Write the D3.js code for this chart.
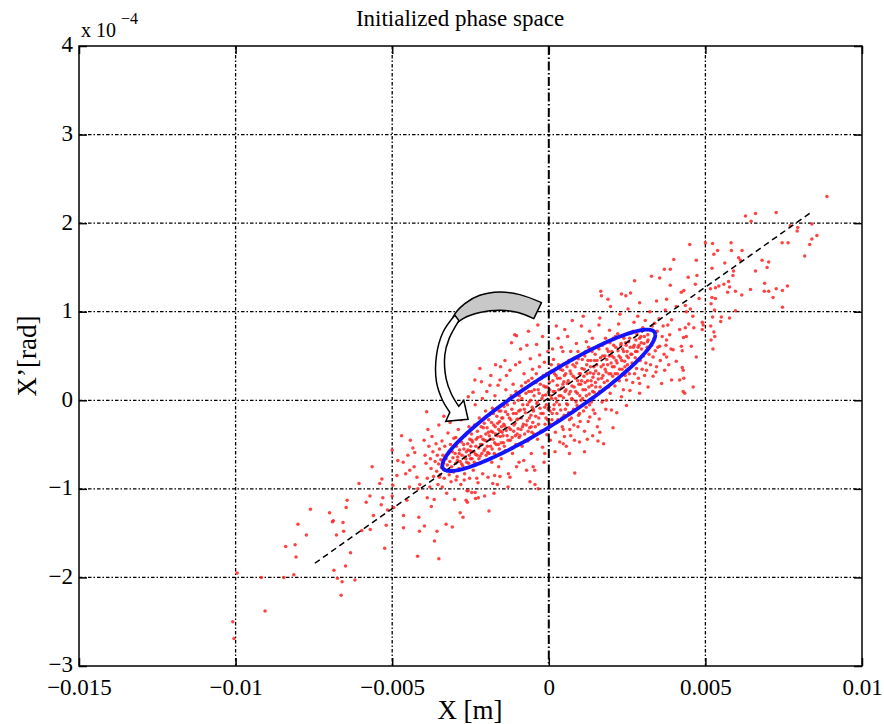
<!DOCTYPE html>
<html>
<head>
<meta charset="utf-8">
<script src="https://cdn.jsdelivr.net/npm/d3@7"></script>
<style>
  body { margin: 0; background: #fff; }
  text { font-family: "Liberation Serif", "Times New Roman", serif; }
</style>
</head>
<body>
<div id="chart"></div>
<script>
// particle positions: [x in mm, x' in 1e-4 rad]
const tailLow = [[-9.95,-1.95],[-10.09,-2.50],[-10.05,-2.69],[-9.06,-2.38],[-9.18,-2.00],[-8.46,-2.00],[-8.14,-1.97],[-8.40,-1.65],[-8.10,-1.63],[-8.07,-1.77],[-8.01,-1.40],[-7.74,-1.52],[-7.61,-1.23],[-7.00,-1.27],[-6.91,-1.37],[-6.88,-1.36],[-6.57,-1.38],[-6.55,-1.48],[-6.78,-1.52],[-6.47,-1.21],[-6.44,-1.13],[-6.06,-0.94],[-6.33,-1.72],[-6.49,-1.87],[-6.86,-1.92],[-6.75,-2.01],[-6.60,-2.05],[-6.63,-2.20],[-6.19,-2.03],[-5.97,-1.47],[-5.83,-1.15],[-5.71,-1.08],[-5.70,-1.46],[-5.64,-0.75],[-5.40,-0.94],[-5.33,-0.89],[-5.30,-1.10],[-5.35,-1.18],[-5.60,-1.30],[-5.24,-1.67],[-5.19,-1.41],[-5.00,-0.56],[-4.98,-0.96],[-5.00,-1.08],[-4.82,-0.68],[-4.95,-1.21],[-5.15,-1.24],[-4.64,-1.30],[-4.64,-1.44],[-4.53,-1.13],[-4.57,-0.83],[-4.42,-0.45],[-4.34,-0.54],[-4.21,-0.87],[-4.18,-1.00],[-4.15,-1.32],[-4.13,-1.48],[-4.19,-1.76],[-4.7,-0.40],[-4.5,-0.62],[-4.85,-0.85],[-4.3,-0.75],[-4.45,-0.98],[-4.28,-0.59],[-4.65,-0.70],[-4.44,-0.79],[-4.12,-0.95]];

const lowerTail2 = [[-3.97,-1.42],[-3.65,-1.59],[-3.57,-1.48],[-3.51,-1.79],[-3.28,-1.40],[-3.08,-1.43],[-2.83,-1.27],[-2.74,-1.32],[-1.91,-1.25],[-3.88,-1.10],[-3.49,-0.87],[-2.96,-0.90],[-2.64,-1.13],[-2.58,-1.02],[-2.35,-1.04],[-2.34,-1.11],[-2.05,-1.08],[-1.79,-0.94],[-1.73,-0.85]];

const midLow = [[-3.98,-0.45],[-3.95,-0.62],[-3.92,-0.71],[-3.88,-0.88],[-3.86,-0.33],[-3.83,-0.52],[-3.8,-0.98],[-3.78,-0.66],[-3.76,-0.77],[-3.73,-0.41],[-3.7,-0.58],[-3.68,-0.86],[-3.66,-1.12],[-3.63,-0.69],[-3.6,-0.49],[-3.58,-0.8],[-3.56,-0.62],[-3.54,-0.95],[-3.52,-0.72],[-3.51,-0.28],[-3.9,-0.13],[-3.75,-1.2],
[-3.49,-0.55],[-3.47,-0.84],[-3.45,-0.67],[-3.43,-0.76],[-3.41,-0.46],[-3.4,-0.98],[-3.38,-0.62],[-3.36,-0.71],[-3.34,-0.88],[-3.32,-0.52],[-3.3,-0.79],[-3.28,-0.66],[-3.26,-1.05],[-3.24,-0.73],[-3.22,-0.37],[-3.2,-0.6],[-3.18,-0.84],[-3.16,-0.69],[-3.14,-0.5],[-3.12,-0.92],[-3.1,-0.75],[-3.08,-0.58],[-3.06,-0.65],[-3.04,-0.81],[-3.03,-0.43],[-3.01,-1.12],[-3.35,-0.18],[-3.15,-0.25],
[-2.99,-0.6],[-2.97,-0.71],[-2.95,-0.52],[-2.93,-0.86],[-2.91,-0.64],[-2.89,-0.33],[-2.87,-0.77],[-2.85,-0.56],[-2.83,-0.69],[-2.81,-0.95],[-2.79,-0.47],[-2.77,-0.62],[-2.75,-0.74],[-2.73,-0.11],[-2.71,-0.55],[-2.69,-0.83],[-2.67,-0.4],[-2.65,-0.66],[-2.63,-0.58],[-2.61,-1.02],[-2.59,-0.49],[-2.57,0.04],[-2.56,-0.71],[-2.55,-0.3],[-2.54,-0.62],[-2.53,-0.88],[-2.52,-0.44],[-2.51,-0.57],[-2.8,-0.22],[-2.6,-1.15],
[-2.49,-0.52],[-2.47,-0.38],[-2.45,-0.66],[-2.43,-0.47],[-2.42,0.09],[-2.41,-0.79],[-2.39,-0.58],[-2.37,-0.28],[-2.36,0.23],[-2.34,-0.61],[-2.32,-0.44],[-2.3,-0.72],[-2.28,-0.35],[-2.26,-0.93],[-2.24,-0.54],[-2.22,-0.2],[-2.2,0.36],[-2.19,-0.63],[-2.17,-0.41],[-2.15,0.21],[-2.13,-0.5],[-2.11,-0.83],[-2.09,-0.31],[-2.07,-0.57],[-2.05,-0.45],[-2.03,-0.68],[-2.02,-0.12],[-2.01,-0.38],[-2.46,-1.04],[-2.25,-1.1],[-2.35,-0.05],[-2.12,0.02],
[-1.99,-0.46],[-1.97,-0.31],[-1.95,-0.59],[-1.94,-0.87],[-1.92,-0.22],[-1.9,-0.4],[-1.88,0.17],[-1.86,-0.52],[-1.84,-0.35],[-1.82,-0.7],[-1.8,-0.09],[-1.78,-0.44],[-1.76,-0.28],[-1.74,-0.6],[-1.72,0.05],[-1.7,-0.38],[-1.68,-0.5],[-1.66,-0.18],[-1.64,-0.95],[-1.62,0.17],[-1.6,-0.33],[-1.58,-0.55],[-1.57,-0.24],[-1.56,0.23],[-1.55,-0.41],[-1.54,0.38],[-1.53,-0.12],[-1.52,-0.66],[-1.51,-0.3],[-1.56,-0.86],[-1.85,0.28],[-1.7,0.4],[-1.98,0.1],[-1.75,-1.05],
[-1.49,-0.36],[-1.47,-0.2],[-1.45,-0.48],[-1.43,-0.07],[-1.41,-0.29],[-1.39,-0.57],[-1.37,0.12],[-1.35,0.28],[-1.33,-0.4],[-1.31,-0.16],[-1.29,-0.83],[-1.27,-0.31],[-1.25,0.02],[-1.24,-0.87],[-1.23,-0.45],[-1.21,-0.22],[-1.19,0.65],[-1.18,-0.1],[-1.16,-0.6],[-1.14,0.18],[-1.12,-0.35],[-1.1,-0.03],[-1.08,-0.26],[-1.06,0.4],[-1.05,-0.5],[-1.04,-0.15],[-1.03,-0.75],[-1.03,0.73],[-1.02,0.06],[-1.01,-0.38],[-1.09,0.74],[-1.24,0.34],[-1.4,0.45],[-1.3,-0.98],
[-0.99,-0.21],[-0.97,0.0],[-0.95,-0.42],[-0.93,0.43],[-0.91,-0.11],[-0.89,-0.33],[-0.87,0.16],[-0.85,-0.52],[-0.83,-0.05],[-0.81,-0.27],[-0.79,0.3],[-0.77,-0.38],[-0.75,-0.14],[-0.73,0.08],[-0.71,-0.79],[-0.69,-0.23],[-0.67,-0.46],[-0.65,0.22],[-0.63,-0.02],[-0.61,-0.31],[-0.59,0.47],[-0.57,-0.17],[-0.56,-0.6],[-0.55,0.1],[-0.54,-0.36],[-0.53,-0.08],[-0.52,0.35],[-0.51,-0.25],[-0.9,0.58],[-0.7,0.62],[-0.6,-0.92],[-0.8,-0.68],[-0.95,-0.7],[-0.65,0.78],
[-0.49,-0.12],[-0.47,0.05],[-0.45,-0.79],[-0.43,-0.3],[-0.41,0.2],[-0.39,0.63],[-0.38,-0.04],[-0.36,-0.44],[-0.34,0.12],[-0.32,-0.2],[-0.3,0.38],[-0.29,0.51],[-0.28,-0.09],[-0.26,-0.35],[-0.24,0.25],[-0.22,0.02],[-0.2,-0.53],[-0.18,-0.15],[-0.16,0.16],[-0.14,0.43],[-0.12,-0.27],[-0.1,0.06],[-0.08,-0.05],[-0.07,0.3],[-0.06,-0.39],[-0.05,0.15],[-0.04,-0.22],[-0.03,0.55],[-0.02,-0.1],[-0.01,0.09],[-0.35,0.85],[-0.2,0.72],[-0.15,-0.7],[-0.44,-0.95],[-0.34,-1.0],[-0.5,-0.75],[-0.13,-0.6]];

const midHigh = [[0.01,-0.08],[0.03,0.12],[0.05,-0.27],[0.07,0.33],[0.09,0.02],[0.11,-0.15],[0.13,0.22],[0.15,0.46],[0.17,-0.05],[0.19,0.1],[0.21,-0.36],[0.23,0.28],[0.24,0.84],[0.25,-0.02],[0.27,0.17],[0.29,-0.22],[0.31,0.4],[0.33,0.05],[0.35,-0.47],[0.36,0.25],[0.38,-0.11],[0.4,0.6],[0.41,0.14],[0.43,-0.3],[0.44,0.34],[0.46,-0.33],[0.46,-0.49],[0.47,0.03],[0.48,0.21],[0.49,-0.17],[0.12,0.58],[0.3,0.7],[0.2,-0.58],[0.05,-0.45],
[0.5,-0.41],[0.51,0.8],[0.52,0.1],[0.54,0.3],[0.56,-0.52],[0.57,-0.04],[0.59,0.19],[0.61,0.42],[0.63,-0.14],[0.65,0.07],[0.67,-0.33],[0.68,0.33],[0.7,0.55],[0.72,-0.2],[0.74,0.16],[0.76,0.01],[0.78,0.27],[0.8,-0.28],[0.82,-0.45],[0.83,-0.82],[0.84,0.38],[0.86,0.1],[0.88,0.64],[0.9,-0.06],[0.92,0.22],[0.94,0.47],[0.95,-0.17],[0.97,0.3],[0.98,-0.47],[0.99,0.05],[0.6,0.72],[0.75,0.9],[0.66,-0.6],[0.93,-0.3],
[1.0,-0.24],[1.02,0.18],[1.04,0.84],[1.06,0.36],[1.08,0.02],[1.1,0.95],[1.12,0.27],[1.14,-0.35],[1.15,0.5],[1.17,0.12],[1.19,-0.08],[1.21,0.4],[1.23,-0.44],[1.24,0.22],[1.26,-0.24],[1.27,0.6],[1.29,0.07],[1.31,-0.19],[1.32,0.31],[1.34,0.45],[1.36,-0.02],[1.37,0.17],[1.39,0.7],[1.41,0.26],[1.42,-0.11],[1.44,0.38],[1.45,0.09],[1.47,-0.15],[1.48,0.52],[1.49,0.2],[1.14,-0.58],[1.3,0.78],[1.4,-0.4],[1.2,0.66],
[1.5,0.33],[1.52,0.06],[1.54,0.45],[1.55,-0.3],[1.57,-0.46],[1.58,0.24],[1.6,0.58],[1.61,-0.21],[1.63,0.93],[1.63,-0.36],[1.64,0.15],[1.66,1.23],[1.67,0.38],[1.68,1.18],[1.7,-0.02],[1.72,0.5],[1.73,0.28],[1.75,-0.49],[1.76,0.12],[1.78,0.65],[1.8,0.35],[1.82,-0.1],[1.84,0.0],[1.85,0.46],[1.87,0.22],[1.89,1.14],[1.9,0.55],[1.92,0.3],[1.94,0.79],[1.96,0.08],[1.97,1.06],[1.99,0.42],
[2.0,-0.11],[2.02,0.5],[2.04,0.27],[2.05,-0.31],[2.07,0.62],[2.09,0.38],[2.11,0.16],[2.13,0.72],[2.15,0.45],[2.17,-0.14],[2.19,0.3],[2.21,0.56],[2.23,0.86],[2.25,0.22],[2.27,0.97],[2.29,0.48],[2.31,0.64],[2.32,1.2],[2.32,0.04],[2.34,0.35],[2.36,0.58],[2.38,0.12],[2.4,0.7],[2.42,0.44],[2.44,0.28],[2.46,1.18],[2.47,0.62],[2.48,-0.06],[2.48,0.23],[2.49,0.5],
[2.51,0.4],[2.53,1.03],[2.55,0.66],[2.57,0.3],[2.59,0.11],[2.61,1.21],[2.62,0.52],[2.64,0.76],[2.66,0.42],[2.68,0.2],[2.7,0.6],[2.72,0.88],[2.74,1.35],[2.74,0.3],[2.76,0.48],[2.78,0.68],[2.8,0.36],[2.82,0.55],[2.84,0.95],[2.86,0.25],[2.88,0.62],[2.9,1.1],[2.9,0.08],[2.9,0.19],[2.92,0.45],[2.94,0.72],[2.96,0.58],[2.98,0.35],
[3.0,0.82],[3.02,0.5],[3.04,0.64],[3.06,0.28],[3.08,0.9],[3.1,0.42],[3.12,0.34],[3.14,0.6],[3.16,0.74],[3.17,0.15],[3.17,0.68],[3.2,0.52],[3.23,1.0],[3.25,0.4],[3.28,0.62],[3.3,0.84],[3.33,0.27],[3.33,0.49],[3.36,0.7],[3.38,0.87],[3.4,0.56],[3.42,0.32],[3.44,1.12],[3.44,0.38],[3.46,0.78],[3.48,0.6],
[3.52,0.92],[3.54,0.61],[3.56,0.45],[3.6,0.19],[3.62,0.72],[3.65,0.84],[3.68,0.52],[3.7,0.34],[3.72,1.02],[3.74,0.62],[3.76,0.49],[3.76,0.68],[3.76,1.14],[3.8,0.85],[3.83,0.4],[3.86,0.74],[3.88,1.3],[3.9,0.58],[3.92,0.23],[3.92,0.91],[3.97,0.57],[3.99,1.59],
[3.69,1.48],[3.88,1.48],[3.28,1.40],[3.54,1.38]];

// extra particles in the crowded core around the ellipse
const coreExtra = [[-2.92,-0.68],[-2.86,-0.6],[-2.78,-0.72],[-2.72,-0.5],[-2.68,-0.64],[-2.62,-0.7],[-2.58,-0.56],[-2.5,-0.66],[-2.46,-0.45],[-2.44,-0.58],[-2.38,-0.7],[-2.33,-0.52],[-2.29,-0.62],[-2.27,-0.42],[-2.23,-0.66],[-2.18,-0.5],[-2.16,-0.3],[-2.14,-0.6],[-2.1,-0.44],[-2.06,-0.26],[-2.04,-0.55],[-2.0,-0.62],[-2.97,-0.42],[-2.7,-0.9],[-2.3,-0.88],
[-1.96,-0.52],[-1.93,-0.36],[-1.91,-0.6],[-1.87,-0.44],[-1.83,-0.25],[-1.81,-0.55],[-1.79,-0.36],[-1.77,-0.15],[-1.73,-0.48],[-1.71,-0.3],[-1.69,-0.62],[-1.65,-0.4],[-1.63,-0.26],[-1.61,-0.5],[-1.59,-0.12],[-1.55,-0.35],[-1.52,-0.48],[-1.5,-0.2],[-1.46,-0.4],[-1.44,-0.27],[-1.42,-0.52],[-1.38,-0.13],[-1.36,-0.34],[-1.32,-0.05],[-1.3,-0.45],[-1.26,-0.2],[-1.22,-0.33],[-1.2,0.05],[-1.17,-0.42],[-1.13,-0.15],[-1.11,-0.28],[-1.07,-0.4],[-1.05,0.1],[-1.02,-0.22],[-1.6,-0.75],
[-0.98,-0.32],[-0.96,-0.12],[-0.94,0.05],[-0.92,-0.4],[-0.88,-0.2],[-0.86,0.02],[-0.84,-0.3],[-0.82,0.12],[-0.78,-0.1],[-0.76,-0.46],[-0.74,0.2],[-0.72,-0.28],[-0.68,-0.05],[-0.66,-0.35],[-0.64,0.1],[-0.62,-0.2],[-0.58,0.0],[-0.56,-0.3],[-0.54,0.25],[-0.5,-0.1],[-0.48,-0.38],[-0.46,0.12],[-0.42,-0.18],[-0.4,0.3],[-0.37,-0.02],[-0.33,-0.27],[-0.31,0.08],[-0.27,0.18],[-0.25,-0.15],[-0.21,-0.35],[-0.19,0.05],[-0.17,0.28],[-0.13,-0.08],[-0.11,0.15],[-0.09,-0.2],
[0.02,0.2],[0.04,-0.12],[0.06,0.05],[0.08,0.4],[0.1,-0.22],[0.14,0.1],[0.16,-0.1],[0.18,0.3],[0.22,0.02],[0.26,-0.15],[0.28,0.25],[0.32,0.12],[0.34,-0.05],[0.37,0.35],[0.39,0.05],[0.42,-0.2],[0.45,0.18],[0.5,0.28],[0.53,-0.1],[0.55,0.12],[0.58,0.38],[0.6,-0.05],[0.62,0.22],[0.64,0.45],[0.66,-0.22],[0.69,0.1],[0.71,0.3],[0.73,0.02],[0.77,0.4],[0.79,-0.1],[0.81,0.15],[0.85,0.25],[0.87,-0.02],[0.89,0.42],[0.91,0.08],[0.93,0.55],[0.96,0.18],[0.98,-0.15],[0.45,0.55],[0.7,-0.4],
[1.01,0.3],[1.03,0.0],[1.05,0.22],[1.07,0.46],[1.09,0.12],[1.11,-0.12],[1.13,0.35],[1.16,0.2],[1.18,0.55],[1.2,0.05],[1.22,0.3],[1.25,0.45],[1.28,0.15],[1.3,-0.05],[1.33,0.38],[1.35,0.22],[1.38,0.55],[1.4,0.1],[1.43,0.3],[1.46,0.45],[1.5,0.15],[1.53,0.4],[1.56,0.6],[1.59,0.3],[1.62,0.1],[1.65,0.48],[1.69,0.25],[1.71,0.62],[1.74,0.4],[1.77,0.2],[1.79,0.5],[1.81,0.7],[1.83,0.32],[1.86,0.58],[1.88,0.4],[1.91,0.15],[1.93,0.5],[1.95,0.65],[1.98,0.3],[1.6,0.85],
[2.01,0.55],[2.03,0.38],[2.06,0.7],[2.08,0.48],[2.12,0.3],[2.14,0.6],[2.18,0.42],[2.2,0.75],[2.24,0.5],[2.26,0.35],[2.3,0.62],[2.33,0.45],[2.37,0.72],[2.39,0.55],[2.43,0.38],[2.45,0.65],[2.5,0.55],[2.54,0.48],[2.58,0.7],[2.6,0.6],[2.65,0.52],[2.69,0.78],[2.73,0.62],[2.77,0.55],[2.81,0.75],[2.85,0.6],[2.9,0.7],[2.95,0.65],[3.05,0.72],[3.15,0.66]];

const tailHigh = [[4.07,1.06],[4.23,1.22],[4.39,1.0],[4.18,0.80],[4.39,0.72],[4.55,0.61],[4.71,0.49],[4.23,0.61],[4.07,0.44],[4.29,0.34],[4.18,0.23],[4.61,0.15],[4.34,0.08],[4.31,1.24],[4.68,1.31],[4.73,1.41],[4.36,1.07],[4.52,1.03],[4.36,0.82],[4.63,0.82],[4.47,0.86],[4.3,0.71],[4.26,0.56],[4.31,0.25],[4.26,0.37],[4.29,0.1],[4.8,1.15],[4.6,0.95],[4.45,1.39],[4.50,1.76],[4.71,1.58],
[8.88,2.30],[6.28,2.08],[6.60,2.11],[6.46,2.02],[7.26,2.12],[7.71,1.97],[7.95,1.95],[7.93,1.91],[8.40,1.99],[8.56,1.86],[8.40,1.82],[8.33,1.76],[8.17,1.63],[7.45,1.78],[7.64,1.78],[5.0,1.78],[5.23,1.77],[5.27,1.65],[5.39,1.69],[5.82,1.78],[5.83,1.69],[6.17,1.69],[6.06,1.61],[6.12,1.58],[5.62,1.55],[5.21,1.49],[5.90,1.46],[5.88,1.41],[6.81,1.58],[7.02,1.56],[6.97,1.50],[6.60,1.46],[5.74,1.34],[5.59,1.31],[5.43,1.29],[5.32,1.27],[5.16,1.26],[5.77,1.28],[5.96,1.23],[5.71,1.22],[6.16,1.19],[6.44,1.25],[6.89,1.32],[6.88,1.23],[7.02,1.23],[7.26,1.26],[7.46,1.24],[7.62,1.29],[7.16,1.16],[7.46,1.05],[5.96,1.01],[5.21,1.16],[5.32,1.15],[5.18,1.09],[5.29,1.02],[5.51,0.94],[5.77,0.93],[5.49,0.89],[5.23,0.94],[5.17,0.84],[5.27,0.77],[5.30,0.72],[5.18,0.68],[5.24,0.58],[4.93,0.85],[4.9,0.88],[4.9,0.8]];

// dashed fit line end points [mm, 1e-4 rad]
const fitLine = [[-7.47,-1.84],[8.33,2.11]];

// Twiss parameters of the blue ellipse
const emittance = 1.037e-7;
const betaTw = 111.5;
const alphaTw = -2.42;

// curved arrow outline [mm, 1e-4 rad]
const arrowBackOuter = [[-0.233,1.103],[-0.926,1.193],[-1.565,1.222],[-2.203,1.185],[-2.682,1.091],[-3.056,0.940],[-3.107,0.816]];
const arrowBackInner = [[-3.107,0.816],[-2.736,0.922],[-2.203,0.990],[-1.565,1.016],[-0.980,0.990],[-0.479,0.922]];
const arrowFrontOuter = [[-3.0,0.96],[-3.375,0.771],[-3.586,0.508],[-3.586,0.207],[-3.394,0.0],[-3.161,-0.135]];
const arrowHead = [[-3.161,-0.135],[-3.289,-0.237],[-2.577,-0.214],[-2.714,0.0],[-2.874,-0.068]];
const arrowFrontInner = [[-2.874,-0.068],[-3.107,0.068],[-3.279,0.245],[-3.321,0.508],[-3.183,0.696],[-2.87,0.90]];

const xTicks = [-0.015,-0.01,-0.005,0,0.005,0.01];
const yTicks = [-3,-2,-1,0,1,2,3,4];
const xGrid = [-0.01,-0.005,0.005];
const yGrid = [-2,-1,0,1,2,3];

const W = 884, H = 724;
const mLeft = 79, mRight = 862, mTop = 46, mBottom = 666;

let svg = d3.select("#chart").append("svg")
    .attr("width", W).attr("height", H)
    .style("background", "white");

let x = d3.scaleLinear().domain([-0.015, 0.01]).range([mLeft, mRight]);
let y = d3.scaleLinear().domain([-3, 4]).range([mBottom, mTop]);
let px = d => x(d[0] / 1000);
let py = d => y(d[1]);

// grid
svg.selectAll(".gx").data(xGrid).enter().append("line")
    .attr("x1", d => x(d)).attr("x2", d => x(d))
    .attr("y1", mTop).attr("y2", mBottom)
    .attr("stroke", "black").attr("stroke-width", 1.3)
    .attr("stroke-dasharray", "3.5,2,1.5,2");
svg.selectAll(".gy").data(yGrid).enter().append("line")
    .attr("x1", mLeft).attr("x2", mRight)
    .attr("y1", d => y(d)).attr("y2", d => y(d))
    .attr("stroke", "black").attr("stroke-width", 1.3)
    .attr("stroke-dasharray", "3.5,2,1.5,2");

// particles
let allPts = tailLow.concat(lowerTail2, midLow, midHigh, coreExtra, tailHigh);
svg.append("g").selectAll("circle").data(allPts).enter().append("circle")
    .attr("cx", px).attr("cy", py)
    .attr("r", 1.75)
    .attr("fill", "#ff2222")
    .attr("opacity", 0.85);

// vertical line at x = 0
svg.append("line")
    .attr("x1", x(0)).attr("x2", x(0))
    .attr("y1", mTop).attr("y2", mBottom)
    .attr("stroke", "black").attr("stroke-width", 2)
    .attr("stroke-dasharray", "9,2.5,1.5,2.5");

// fit line
svg.append("path")
    .attr("d", d3.line().x(px).y(py)(fitLine))
    .attr("stroke", "black").attr("stroke-width", 1.5)
    .attr("stroke-dasharray", "6,4").attr("fill", "none");

// ellipse
let ellPts = d3.range(0, 361, 2).map(a => {
    let t = a * Math.PI / 180;
    let xm = Math.sqrt(emittance * betaTw) * Math.cos(t);
    let xp = -Math.sqrt(emittance / betaTw) * (alphaTw * Math.cos(t) + Math.sin(t));
    return [xm * 1000, xp * 1e4];
});
svg.append("path")
    .attr("d", d3.line().x(px).y(py)(ellPts))
    .attr("stroke", "#1414ff").attr("stroke-width", 3.8)
    .attr("fill", "none").attr("stroke-linejoin", "round");

// curved arrow
let curve = d3.line().x(px).y(py).curve(d3.curveCatmullRom);
let lin = d3.line().x(px).y(py);
svg.append("path")
    .attr("d", curve(arrowBackOuter) + curve(arrowBackInner).replace(/^M/, "L") + "Z")
    .attr("fill", "#c8c8c8").attr("stroke", "black").attr("stroke-width", 1.5)
    .attr("stroke-linejoin", "round");
svg.append("path")
    .attr("d", curve(arrowFrontOuter) + lin(arrowHead).replace(/^M/, "L") + curve(arrowFrontInner).replace(/^M/, "L") + "Z")
    .attr("fill", "white").attr("stroke", "black").attr("stroke-width", 1.5)
    .attr("stroke-linejoin", "miter");

// axes with inward ticks
let fmtX = d => d === 0 ? "0" : d3.format("~g")(d);
let fmtY = d => d3.format("d")(d);

let ax = svg.append("g").attr("transform", `translate(0,${mBottom})`)
    .call(d3.axisBottom(x).tickValues(xTicks).tickSize(-8).tickPadding(13).tickFormat(fmtX));
let ay = svg.append("g").attr("transform", `translate(${mLeft},0)`)
    .call(d3.axisLeft(y).tickValues(yTicks).tickSize(-8).tickPadding(6).tickFormat(fmtY));
let axt = svg.append("g").attr("transform", `translate(0,${mTop})`)
    .call(d3.axisTop(x).tickValues(xTicks).tickSize(-8).tickFormat(""));
let ayr = svg.append("g").attr("transform", `translate(${mRight},0)`)
    .call(d3.axisRight(y).tickValues(yTicks).tickSize(-8).tickFormat(""));

[ax, ay, axt, ayr].forEach(g => {
    g.select(".domain").remove();
    g.selectAll("line").attr("stroke", "black").attr("stroke-width", 1.5);
    g.selectAll("text").attr("font-family", "'Liberation Serif', 'Times New Roman', serif")
        .attr("font-size", 23).attr("fill", "black");
});
ay.selectAll("text").attr("dy", "0.26em");

// box
svg.append("rect")
    .attr("x", mLeft).attr("y", mTop)
    .attr("width", mRight - mLeft).attr("height", mBottom - mTop)
    .attr("fill", "none").attr("stroke", "black").attr("stroke-width", 1.5);

// texts
svg.append("text").attr("x", 460).attr("y", 26)
    .attr("text-anchor", "middle").attr("font-size", 23)
    .text("Initialized phase space");
svg.append("text").attr("x", 81).attr("y", 37)
    .attr("font-size", 20).text("x 10");
svg.append("text").attr("x", 121).attr("y", 24)
    .attr("font-size", 16).text("\u22124");
svg.append("text").attr("x", 470).attr("y", 719)
    .attr("text-anchor", "middle").attr("font-size", 27)
    .text("X [m]");
svg.append("text")
    .attr("transform", "translate(36,356) rotate(-90)")
    .attr("text-anchor", "middle").attr("font-size", 27)
    .text("X\u2019[rad]");
</script>
</body>
</html>
